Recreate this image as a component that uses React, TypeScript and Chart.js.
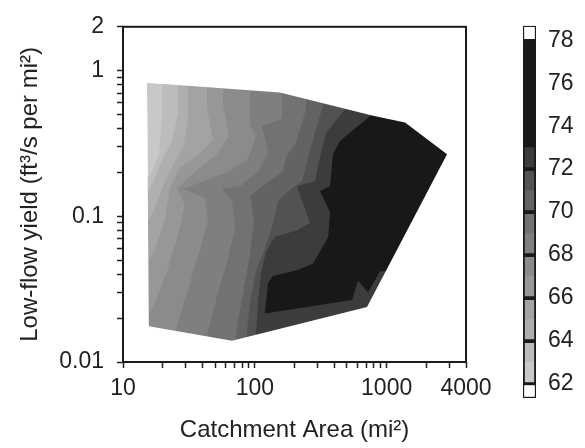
import React, { useEffect, useRef } from 'react';
import { Chart, registerables } from 'chart.js';

Chart.register(...registerables);

const FONT = "'Liberation Sans', Arial, Helvetica, sans-serif";
const TEXT = '#222222';

// ---- axes ----
const X_MIN = 10;
const X_MAX = 4000;
const Y_MIN = 0.01;
const Y_MAX = 2;
const xTickValues = [10, 20, 30, 40, 50, 60, 70, 80, 90, 100, 200, 300, 400, 500, 600, 700, 800, 900, 1000, 2000, 3000, 4000];
const xTickLabels = ['10', '100', '1000', '4000'];
const yTickValues = [0.01, 0.02, 0.03, 0.04, 0.05, 0.06, 0.07, 0.08, 0.09, 0.1, 0.2, 0.3, 0.4, 0.5, 0.6, 0.7, 0.8, 0.9, 1, 2];
const yTickLabels = ['0.01', '0.1', '1', '2'];

// ---- contour levels (lower bound of each band) and grey shades ----
const levels = [62, 63, 64, 65, 66, 67, 68, 69, 70, 71, 72, 73];
const levelColors = ['#c8c8c8', '#bcbcbc', '#afafaf', '#a3a3a3', '#979797', '#8b8b8b', '#7f7f7f', '#727272', '#636363', '#525252', '#3c3c3c', '#181818'];

// data hull (catchment area, low-flow yield)
const hull = [[15.2, 0.825], [155, 0.708], [789, 0.491], [1380, 0.441], [2872, 0.267], [710, 0.0239], [67.1, 0.014], [15.7, 0.0176]];

// contour lines, top to bottom; the region to their right is >= level
const contour63 = [[19.8, 1.365], [19.8, 0.469], [18.8, 0.267], [16.0, 0.188], [10, 0.161], [10, 0.01]];
const contour64 = [[26.2, 1.365], [26.2, 0.506], [23.5, 0.33], [20.1, 0.247], [16.6, 0.166], [13.5, 0.119], [10, 0.102], [10, 0.01]];
const contour65 = [[31.1, 1.365], [31.1, 0.455], [28.5, 0.296], [23.5, 0.219], [19.8, 0.156], [16.6, 0.102], [13.5, 0.075], [10, 0.0597], [10, 0.01]];
const contour66 = [[43.4, 1.365], [43.4, 0.546], [48.2, 0.335], [35.8, 0.255], [27.1, 0.219], [22.7, 0.156], [20.8, 0.0944], [17.5, 0.0597], [13.5, 0.0378], [10, 0.0278], [10, 0.01]];
const contour67 = [[57.4, 1.365], [57.4, 0.589], [63.7, 0.356], [50.8, 0.263], [35.2, 0.202], [25.7, 0.156], [29.5, 0.119], [26.2, 0.075], [22.0, 0.044], [17.5, 0.0258], [13.5, 0.0163], [10, 0.013], [10, 0.01]];
const contour68 = [[92, 1.365], [92, 0.421], [101.8, 0.356], [88.8, 0.247], [62.6, 0.202], [28.5, 0.154], [41.9, 0.134], [44.2, 0.0944], [38.4, 0.0597], [32.2, 0.035], [26.2, 0.019], [22.0, 0.01]];
const contour69 = [[160.9, 1.365], [160.9, 0.469], [113.4, 0.415], [126, 0.275], [105.8, 0.202], [77.3, 0.161], [56.4, 0.154], [67.1, 0.128], [70.8, 0.0848], [62.6, 0.0512], [52.6, 0.03], [44.2, 0.0163], [38.4, 0.01]];
const contour70 = [[244.7, 1.365], [244.7, 0.546], [205.4, 0.32], [172.5, 0.255], [163.7, 0.202], [113.4, 0.161], [92, 0.138], [98.6, 0.0944], [92, 0.0553], [82.8, 0.0324], [74.6, 0.019], [67.1, 0.01]];
const contour71 = [[323.6, 1.365], [323.6, 0.546], [271.6, 0.32], [249, 0.236], [228.2, 0.174], [191.5, 0.156], [150, 0.128], [135, 0.0848], [119, 0.0597], [101.8, 0.042], [92, 0.0258], [85.8, 0.014], [82.8, 0.01]];
const contour72 = [[484, 1.365], [484, 0.546], [346.9, 0.373], [312, 0.255], [286, 0.174], [209, 0.161], [262, 0.0901], [205.4, 0.0797], [142, 0.0728], [121.6, 0.057], [111.4, 0.0407], [105.8, 0.0258], [101.8, 0.0151], [101.8, 0.01]];
const contour73 = [[972, 1.365], [788.6, 0.506], [443, 0.33], [392, 0.267], [372, 0.161], [312, 0.149], [372, 0.1066], [360, 0.0717], [276.4, 0.0475], [209, 0.0426], [137.4, 0.0389], [126, 0.035], [119, 0.0215], [546.5, 0.0266], [606.7, 0.0361], [722.6, 0.03], [891, 0.042]];
const contours = [contour63, contour64, contour65, contour66, contour67, contour68, contour69, contour70, contour71, contour72, contour73];

// ---- colour bar ----
const cbMin = 61.35;
const cbMax = 78.67;
const cbTop = 78;
const cbTicks = [62, 64, 66, 68, 70, 72, 74, 76, 78];
const cbOutlineBreaks = [62, 64, 66, 68, 70, 72, 78];

type P = number[];

function closeRight(c: P[]): P[] {
  const f = c[0];
  const l = c[c.length - 1];
  return [...c, [X_MAX, l[1]], [X_MAX, f[1]]];
}

function maskPolygon(h: P[]): P[] {
  return [[X_MIN, Y_MAX], [X_MAX, Y_MAX], [X_MAX, Y_MIN], [X_MIN, Y_MIN], [X_MIN, Y_MAX], h[0], ...h.slice(1).reverse(), h[0]];
}

// start at leftmost vertex and end at rightmost one (degenerate spike) so any x-clipping keeps everything
function shapeData(pts: P[]) {
  let li = 0;
  let ri = 0;
  pts.forEach((p, i) => {
    if (p[0] < pts[li][0]) li = i;
    if (p[0] > pts[ri][0]) ri = i;
  });
  const rot = [...pts.slice(li), ...pts.slice(0, li)];
  return [...rot, pts[li], pts[ri]].map(([x, y]) => ({ x, y }));
}

function polyDataset(pts: P[], color: string, order: number) {
  return {
    data: shapeData(pts),
    showLine: true,
    fill: 'shape',
    backgroundColor: color,
    borderColor: 'rgba(0,0,0,0)',
    borderWidth: 0,
    pointRadius: 0,
    pointHoverRadius: 0,
    pointHitRadius: 0,
    tension: 0,
    order,
  };
}

const framePlugin = {
  id: 'frame',
  afterDatasetsDraw(chart: any) {
    const { ctx, chartArea: a } = chart;
    ctx.save();
    ctx.strokeStyle = '#1a1a1a';
    ctx.lineWidth = 2;
    ctx.strokeRect(a.left, a.top, a.right - a.left, a.bottom - a.top);
    ctx.restore();
  },
};

function MainChart() {
  const ref = useRef<HTMLCanvasElement>(null);
  useEffect(() => {
    const datasets: any[] = [];
    datasets.push(polyDataset(maskPolygon(hull), '#ffffff', 0));
    for (let i = contours.length - 1; i >= 0; i--) {
      datasets.push(polyDataset(closeRight(contours[i]), levelColors[i + 1], contours.length - i));
    }
    datasets.push(polyDataset(hull, levelColors[0], contours.length + 1));

    const tickFont = { family: FONT, size: 23 };
    const titleFont = { family: FONT, size: 24 };
    const chart = new Chart(ref.current!, {
      type: 'scatter',
      data: { datasets },
      options: {
        animation: false,
        responsive: false,
        events: [],
        layout: { padding: { left: 0, right: 44, top: 15, bottom: 0 } },
        plugins: { legend: { display: false }, tooltip: { enabled: false } },
        scales: {
          x: {
            type: 'logarithmic',
            position: 'bottom',
            min: X_MIN,
            max: X_MAX,
            afterBuildTicks: (s: any) => {
              s.ticks = xTickValues.map((v) => ({ value: v }));
            },
            afterFit: (s: any) => {
              s.height = 86;
            },
            ticks: {
              autoSkip: false,
              maxRotation: 0,
              minRotation: 0,
              padding: 7,
              color: TEXT,
              font: tickFont,
              callback: (v: any) => (xTickLabels.includes(String(v)) ? String(v) : ''),
            },
            grid: { drawOnChartArea: false, drawTicks: true, tickLength: 6, tickWidth: 1.5, tickColor: '#222' },
            border: { display: false },
            title: { display: true, text: 'Catchment Area (mi²)', color: TEXT, font: titleFont, padding: { top: 0, bottom: 3 } },
          },
          y: {
            type: 'logarithmic',
            position: 'left',
            min: Y_MIN,
            max: Y_MAX,
            afterBuildTicks: (s: any) => {
              s.ticks = yTickValues.map((v) => ({ value: v }));
            },
            afterFit: (s: any) => {
              s.width = 123;
            },
            ticks: {
              autoSkip: false,
              padding: 13,
              color: TEXT,
              font: tickFont,
              callback: (v: any) => (yTickLabels.includes(String(v)) ? String(v) : ''),
            },
            grid: { drawOnChartArea: false, drawTicks: true, tickLength: 6, tickWidth: 1.5, tickColor: '#222' },
            border: { display: false },
            title: { display: true, text: 'Low-flow yield (ft³/s per mi²)', color: TEXT, font: titleFont, padding: { top: 16, bottom: 0 } },
          },
        },
      } as any,
      plugins: [framePlugin],
    });
    return () => chart.destroy();
  }, []);
  return <canvas ref={ref} width={510} height={448} style={{ position: 'absolute', left: 0, top: 0 }} />;
}

function ColorBar() {
  const ref = useRef<HTMLCanvasElement>(null);
  useEffect(() => {
    const datasets: any[] = [];
    // white end boxes
    datasets.push({ data: [[cbMin, levels[0]]], backgroundColor: '#ffffff', borderColor: '#1a1a1a', borderWidth: 1.5, borderSkipped: false, order: 0 });
    datasets.push({ data: [[cbTop, cbMax]], backgroundColor: '#ffffff', borderColor: '#1a1a1a', borderWidth: 1.5, borderSkipped: false, order: 0 });
    // outlines
    for (let i = 0; i < cbOutlineBreaks.length - 1; i++) {
      datasets.push({ data: [[cbOutlineBreaks[i], cbOutlineBreaks[i + 1]]], backgroundColor: 'rgba(0,0,0,0)', borderColor: '#1a1a1a', borderWidth: 1.5, borderSkipped: false, order: 0 });
    }
    // filled bands
    for (let i = 0; i < levels.length; i++) {
      const hi = i < levels.length - 1 ? levels[i + 1] : cbTop;
      datasets.push({ data: [[levels[i], hi]], backgroundColor: levelColors[i], borderWidth: 0, order: 1 });
    }
    const chart = new Chart(ref.current!, {
      type: 'bar',
      data: { labels: [''], datasets },
      options: {
        animation: false,
        responsive: false,
        events: [],
        layout: { padding: { left: 13, right: 0, top: 22, bottom: 50 } },
        datasets: { bar: { grouped: false, barPercentage: 1, categoryPercentage: 1 } },
        plugins: { legend: { display: false }, tooltip: { enabled: false } },
        scales: {
          x: { display: false },
          y: {
            type: 'linear',
            position: 'right',
            min: cbMin,
            max: cbMax,
            afterBuildTicks: (s: any) => {
              s.ticks = cbTicks.map((v) => ({ value: v }));
            },
            afterFit: (s: any) => {
              s.width = 49;
            },
            ticks: { padding: 12, color: TEXT, font: { family: FONT, size: 23 }, callback: (v: any) => String(v) },
            grid: { display: false, drawTicks: false },
            border: { display: false },
          },
        },
      } as any,
    });
    return () => chart.destroy();
  }, []);
  return <canvas ref={ref} width={75} height={448} style={{ position: 'absolute', left: 510, top: 0 }} />;
}

export default function App() {
  return (
    <div style={{ position: 'absolute', left: 0, top: 0, width: 585, height: 448, background: '#ffffff' }}>
      <MainChart />
      <ColorBar />
    </div>
  );
}
